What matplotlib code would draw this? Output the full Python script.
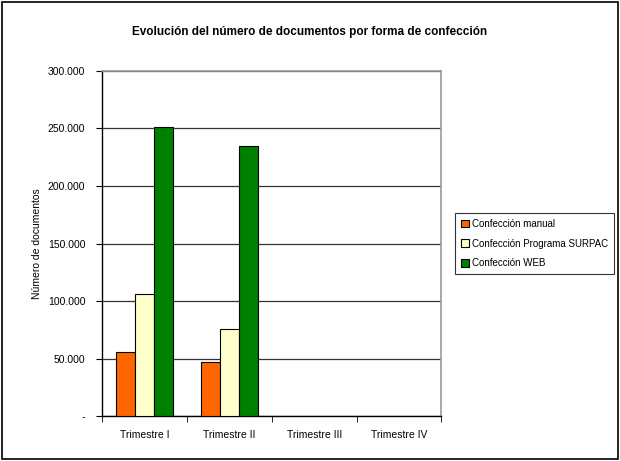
import matplotlib.pyplot as plt
from matplotlib.patches import Rectangle
import numpy as np

plt.rcParams['font.family'] = ['Liberation Sans Narrow', 'Liberation Sans', 'DejaVu Sans']

trimestres = ["Trimestre I", "Trimestre II", "Trimestre III", "Trimestre IV"]
manual = [56000, 46800, 0, 0]
surpac = [106000, 75500, 0, 0]
web = [251500, 235200, 0, 0]
series_names = ["Confección manual", "Confección Programa SURPAC", "Confección WEB"]
colors = ["#FF6600", "#FFFFCC", "#008000"]

yticks = [0, 50000, 100000, 150000, 200000, 250000, 300000]

def fmt(v):
    if v == 0:
        return "-"
    return f"{v:,.0f}".replace(",", ".")

fig = plt.figure(figsize=(6.2, 4.61), dpi=100)
ax = fig.add_axes([0.1645, 0.0976, 0.5475, 0.7484])

x = np.arange(len(trimestres))
w = 2 / 9
for i, (vals, name, c) in enumerate(zip([manual, surpac, web], series_names, colors)):
    lw = [0.8 if v > 0 else 0 for v in vals]
    ax.bar(x + (i - 1) * w, vals, width=w, color=c, edgecolor="black", linewidth=lw,
           label=name, zorder=3)

ax.set_xlim(-0.5, 3.5)
ax.set_ylim(0, 300000)
ax.set_yticks(yticks)
ax.set_yticklabels([fmt(v) for v in yticks], fontsize=7.5)
ax.set_xticks(x)
ax.set_xticklabels(trimestres, fontsize=7.5)
ax.tick_params(axis="x", length=0, pad=10)
ax.set_xticks(np.arange(-0.5, 4, 1), minor=True)
ax.tick_params(axis="x", which="minor", length=4, direction="out", color="black")
ax.tick_params(axis="y", length=4, direction="out", color="black", pad=8)
ax.yaxis.grid(True, color="#333333", linewidth=0.9, zorder=0)

for side in ["top", "right"]:
    ax.spines[side].set_color("#999999")
    ax.spines[side].set_linewidth(1.2)
for side in ["left", "bottom"]:
    ax.spines[side].set_color("black")
    ax.spines[side].set_linewidth(1.0)

ax.set_ylabel("Número de documentos", fontsize=7.5, labelpad=4)

fig.text(0.5, 0.93, "Evolución del número de documentos por forma de confección",
         ha="center", va="center", fontsize=8.5, fontweight="bold")

leg = fig.legend(loc="upper left", bbox_to_anchor=(455 / 620, 1 - 213 / 461),
                 fontsize=7, frameon=True, fancybox=False, edgecolor="black",
                 handlelength=0.8, handleheight=0.8, handletextpad=0.4,
                 labelspacing=1.0, borderpad=0.6, borderaxespad=0)
leg.get_frame().set_linewidth(0.8)

fig.patches.append(Rectangle((0.004, 0.004), 0.992, 0.992, transform=fig.transFigure,
                             fill=False, edgecolor="black", linewidth=1.2))

fig.savefig("out.png", dpi=100)
